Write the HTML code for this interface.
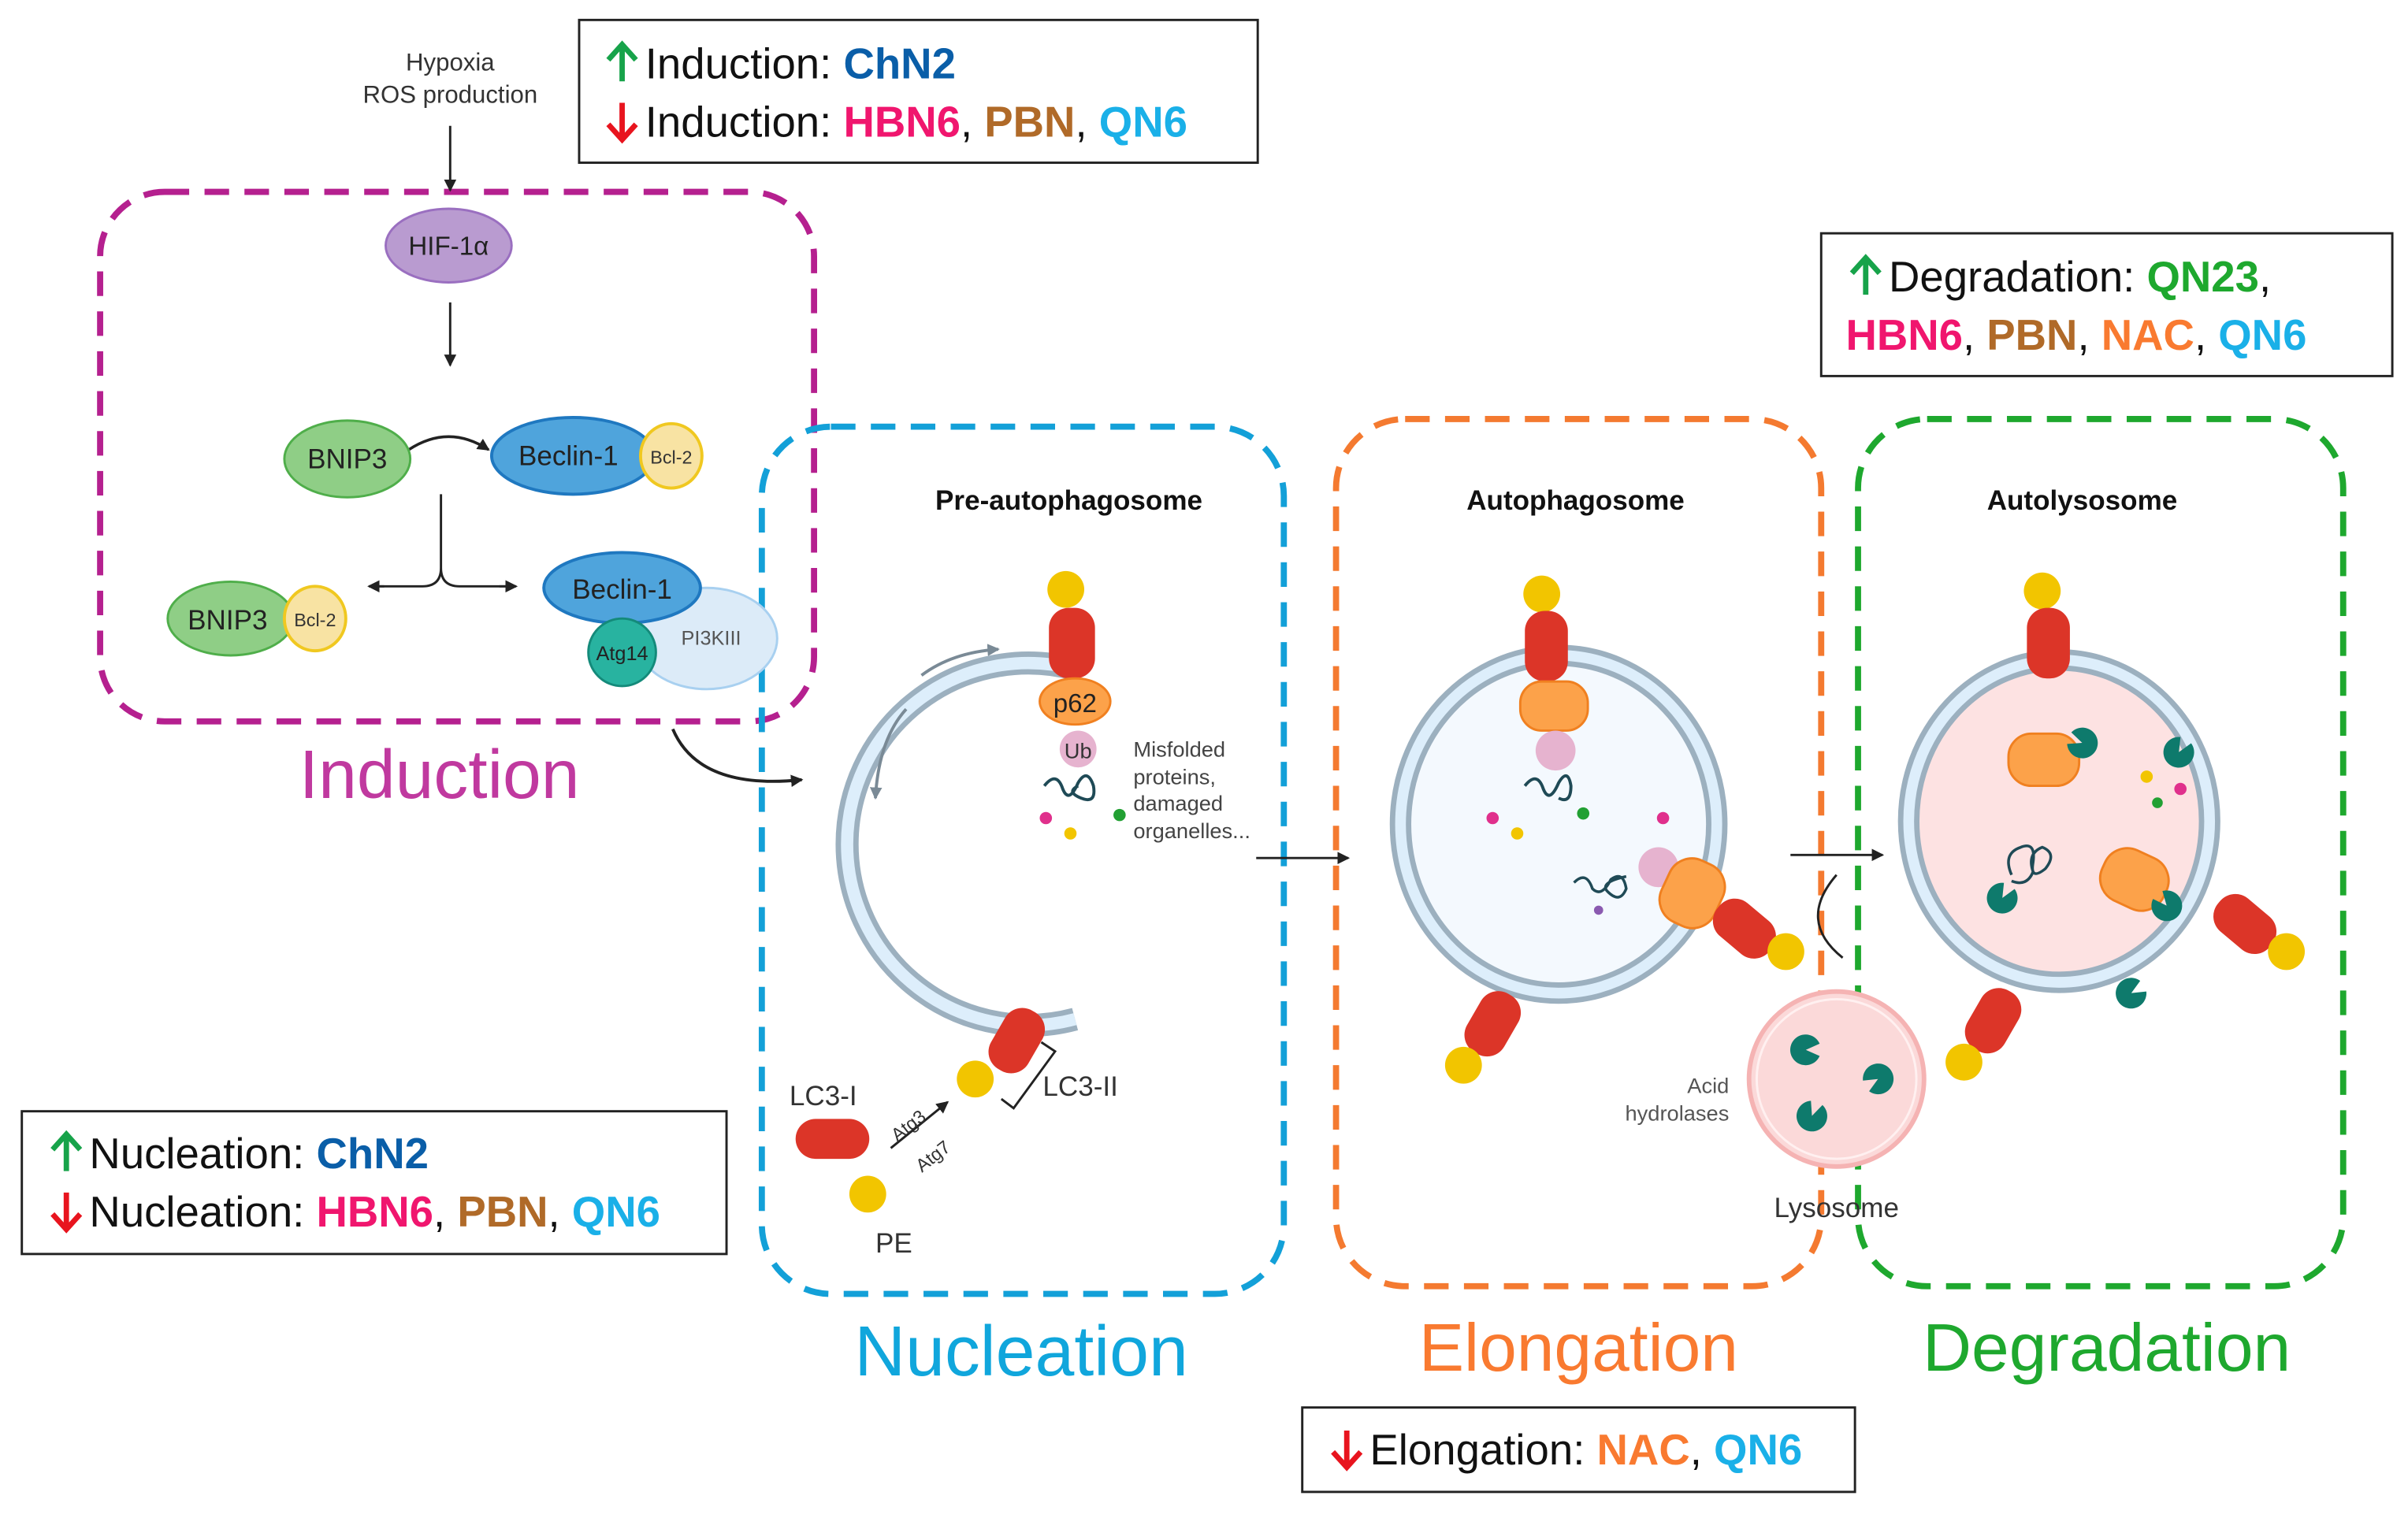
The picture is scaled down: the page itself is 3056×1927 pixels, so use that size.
<!DOCTYPE html>
<html><head><meta charset="utf-8"><style>html,body{margin:0;padding:0;background:#fff}svg{display:block}</style></head>
<body>
<svg width="3056" height="1927" viewBox="0 0 1568 989" xmlns="http://www.w3.org/2000/svg" font-family="Liberation Sans, sans-serif">
<defs>
<marker id="ah" markerWidth="8" markerHeight="8" refX="7" refY="4" orient="auto" markerUnits="userSpaceOnUse"><path d="M0,0 L8,4 L0,8 Z" fill="#222"/></marker>
<marker id="ahg" markerWidth="8" markerHeight="8" refX="7" refY="4" orient="auto" markerUnits="userSpaceOnUse"><path d="M0,0 L8,4 L0,8 Z" fill="#7a8a96"/></marker>
<g id="enz"><path d="M0,0 L9,-4 A10,10 0 1 0 9,4 Z" fill="#0e7a6c"/></g>
<g id="up"><path d="M0,12 L0,-11 M-9,-2 L0,-12 L9,-2" fill="none" stroke="#17a34a" stroke-width="3.5"/></g>
<g id="dn"><path d="M0,-12 L0,11 M-9,2 L0,12 L9,2" fill="none" stroke="#e8141e" stroke-width="3.5"/></g>
</defs>
<rect width="1568" height="989" fill="#fff"/>

<rect x="65" y="125" width="465" height="345" rx="42" fill="none" stroke="#b5208f" stroke-width="4" stroke-dasharray="16,10"/>
<rect x="496" y="278" width="340" height="565" rx="45" fill="none" stroke="#13a0d8" stroke-width="4" stroke-dasharray="16,10"/>
<rect x="870" y="273" width="316" height="565" rx="45" fill="none" stroke="#f47a30" stroke-width="4" stroke-dasharray="16,10"/>
<rect x="1210" y="273" width="316" height="565" rx="45" fill="none" stroke="#1ea82e" stroke-width="4" stroke-dasharray="16,10"/>

<text x="286" y="520" font-size="45" fill="#c0399f" text-anchor="middle">Induction</text>
<text x="665" y="896" font-size="46" fill="#10a6dc" text-anchor="middle">Nucleation</text>
<text x="1028" y="893" font-size="44" fill="#f97a30" text-anchor="middle">Elongation</text>
<text x="1372" y="893" font-size="44" fill="#1ea82e" text-anchor="middle">Degradation</text>

<g font-size="28">
<rect x="377" y="13" width="442" height="93" fill="#fff" stroke="#222" stroke-width="1.5"/>
<use href="#up" x="405" y="41"/>
<text x="420" y="51" fill="#111">Induction: <tspan fill="#0a5ea8" font-weight="bold">ChN2</tspan></text>
<use href="#dn" x="405" y="79"/>
<text x="420" y="89" fill="#111">Induction: <tspan fill="#f0166e" font-weight="bold">HBN6</tspan>, <tspan fill="#b06a28" font-weight="bold">PBN</tspan>, <tspan fill="#1ab0e8" font-weight="bold">QN6</tspan></text>

<rect x="1186" y="152" width="372" height="93" fill="#fff" stroke="#222" stroke-width="1.5"/>
<use href="#up" x="1215" y="180"/>
<text x="1230" y="190" fill="#111">Degradation: <tspan fill="#1ea82e" font-weight="bold">QN23</tspan>,</text>
<text x="1202" y="228" fill="#111"><tspan fill="#f0166e" font-weight="bold">HBN6</tspan>, <tspan fill="#b06a28" font-weight="bold">PBN</tspan>, <tspan fill="#f97a30" font-weight="bold">NAC</tspan>, <tspan fill="#1ab0e8" font-weight="bold">QN6</tspan></text>

<rect x="14" y="724" width="459" height="93" fill="#fff" stroke="#222" stroke-width="1.5"/>
<use href="#up" x="43" y="751"/>
<text x="58" y="761" fill="#111">Nucleation: <tspan fill="#0a5ea8" font-weight="bold">ChN2</tspan></text>
<use href="#dn" x="43" y="789"/>
<text x="58" y="799" fill="#111">Nucleation: <tspan fill="#f0166e" font-weight="bold">HBN6</tspan>, <tspan fill="#b06a28" font-weight="bold">PBN</tspan>, <tspan fill="#1ab0e8" font-weight="bold">QN6</tspan></text>

<rect x="848" y="917" width="360" height="55" fill="#fff" stroke="#222" stroke-width="1.5"/>
<use href="#dn" x="877" y="944"/>
<text x="892" y="954" fill="#111">Elongation: <tspan fill="#f97a30" font-weight="bold">NAC</tspan>, <tspan fill="#1ab0e8" font-weight="bold">QN6</tspan></text>
</g>

<text x="293" y="46" font-size="16" fill="#333" text-anchor="middle">Hypoxia</text>
<text x="293" y="67" font-size="16" fill="#333" text-anchor="middle">ROS production</text>
<line x1="293" y1="82" x2="293" y2="124" stroke="#222" stroke-width="1.5" marker-end="url(#ah)"/>
<ellipse cx="292" cy="160" rx="41" ry="24" fill="#b99bd0" stroke="#9a6fc0" stroke-width="1.5"/>
<text x="292" y="166" font-size="17" fill="#222" text-anchor="middle">HIF-1α</text>
<line x1="293" y1="197" x2="293" y2="238" stroke="#222" stroke-width="1.5" marker-end="url(#ah)"/>
<path d="M266,293 Q292,276 318,293" fill="none" stroke="#222" stroke-width="1.8" marker-end="url(#ah)"/>
<ellipse cx="226" cy="299" rx="41" ry="25" fill="#8fce86" stroke="#4fae4a" stroke-width="1.5"/>
<text x="226" y="305" font-size="18" fill="#222" text-anchor="middle">BNIP3</text>
<ellipse cx="373" cy="297" rx="53" ry="25" fill="#4fa4dc" stroke="#1f78c0" stroke-width="2"/>
<text x="370" y="303" font-size="18" fill="#222" text-anchor="middle">Beclin-1</text>
<ellipse cx="437" cy="297" rx="20" ry="21" fill="#f8e3a3" stroke="#f0c820" stroke-width="2"/>
<text x="437" y="302" font-size="12" fill="#333" text-anchor="middle">Bcl-2</text>
<path d="M287,322 L287,370 Q287,382 275,382 L244,382 M287,370 Q287,382 299,382 L330,382" fill="none" stroke="#222" stroke-width="1.5"/>
<line x1="250" y1="382" x2="240" y2="382" stroke="#222" stroke-width="1.5" marker-end="url(#ah)"/>
<line x1="325" y1="382" x2="336" y2="382" stroke="#222" stroke-width="1.5" marker-end="url(#ah)"/>
<ellipse cx="150" cy="403" rx="41" ry="24" fill="#8fce86" stroke="#4fae4a" stroke-width="1.5"/>
<text x="148" y="410" font-size="18" fill="#222" text-anchor="middle">BNIP3</text>
<ellipse cx="205" cy="403" rx="20" ry="21" fill="#f8e3a3" stroke="#f0c820" stroke-width="2"/>
<text x="205" y="408" font-size="12" fill="#333" text-anchor="middle">Bcl-2</text>
<ellipse cx="460" cy="416" rx="46" ry="33" fill="#dcebf8" stroke="#a8d0f0" stroke-width="1.5"/>
<text x="463" y="420" font-size="13" fill="#555" text-anchor="middle">PI3KIII</text>
<ellipse cx="405" cy="383" rx="51" ry="23" fill="#4fa4dc" stroke="#1f78c0" stroke-width="2"/>
<text x="405" y="390" font-size="18" fill="#222" text-anchor="middle">Beclin-1</text>
<circle cx="405" cy="425" r="22" fill="#28b3a0" stroke="#148a7a" stroke-width="1.5"/>
<text x="405" y="430" font-size="13" fill="#222" text-anchor="middle">Atg14</text>
<path d="M438,475 Q455,515 522,508" fill="none" stroke="#222" stroke-width="2" marker-end="url(#ah)"/>

<text x="696" y="332" font-size="18" font-weight="bold" fill="#111" text-anchor="middle">Pre-autophagosome</text>
<path d="M700,436 A118,118 0 1 0 700,664" fill="none" stroke="#9cb0bf" stroke-width="15"/>
<path d="M700,436 A118,118 0 1 0 700,664" fill="none" stroke="#ddeefb" stroke-width="8"/>
<path d="M600,440 Q620,425 650,423" fill="none" stroke="#7a8a96" stroke-width="2" marker-end="url(#ahg)"/>
<path d="M590,462 Q572,482 570,520" fill="none" stroke="#7a8a96" stroke-width="2" marker-end="url(#ahg)"/>
<circle cx="694" cy="384" r="12" fill="#f2c500"/>
<rect x="683" y="396" width="30" height="46" rx="13" fill="#dc3528"/>
<ellipse cx="700" cy="457" rx="23" ry="15" fill="#fca24a" stroke="#f08020" stroke-width="1.5"/>
<text x="700" y="464" font-size="17" fill="#222" text-anchor="middle">p62</text>
<circle cx="702" cy="488" r="12" fill="#e6b3cf"/>
<text x="702" y="494" font-size="14" fill="#333" text-anchor="middle">Ub</text>
<path d="M680,512 q8,-10 12,2 q4,10 10,-4 q6,-10 10,2 q2,12 -8,8 q-10,-4 -2,-8" fill="none" stroke="#1f4a56" stroke-width="2"/>
<circle cx="681" cy="533" r="4" fill="#e0308c"/>
<circle cx="697" cy="543" r="4" fill="#f2c500"/>
<circle cx="729" cy="531" r="4" fill="#22a033"/>
<g font-size="14" fill="#444"><text x="738" y="493">Misfolded</text><text x="738" y="511">proteins,</text><text x="738" y="528">damaged</text><text x="738" y="546">organelles...</text></g>
<rect x="648" y="656" width="28" height="44" rx="13" fill="#dc3528" transform="rotate(30 662 678)"/>
<circle cx="635" cy="703" r="12" fill="#f2c500"/>
<path d="M678,679 L687,685 L660,722 L652,716" fill="none" stroke="#222" stroke-width="1.5"/>
<text x="679" y="714" font-size="18" fill="#333">LC3-II</text>
<text x="514" y="720" font-size="18" fill="#333">LC3-I</text>
<rect x="518" y="729" width="48" height="26" rx="13" fill="#dc3528"/>
<circle cx="565" cy="778" r="12" fill="#f2c500"/>
<text x="570" y="816" font-size="18" fill="#333">PE</text>
<line x1="580" y1="748" x2="617" y2="718" stroke="#222" stroke-width="1.5" marker-end="url(#ah)"/>
<text x="578" y="738" font-size="12" fill="#333" transform="rotate(-38 590 732)">Atg3</text>
<text x="594" y="758" font-size="12" fill="#333" transform="rotate(-38 606 752)">Atg7</text>
<line x1="818" y1="559" x2="878" y2="559" stroke="#222" stroke-width="1.5" marker-end="url(#ah)"/>

<text x="1026" y="332" font-size="18" font-weight="bold" fill="#111" text-anchor="middle">Autophagosome</text>
<ellipse cx="1015" cy="537" rx="103" ry="110" fill="#f4f9fe" stroke="#9cb0bf" stroke-width="14"/>
<ellipse cx="1015" cy="537" rx="103" ry="110" fill="none" stroke="#ddeefb" stroke-width="7"/>
<circle cx="1004" cy="387" r="12" fill="#f2c500"/>
<rect x="993" y="398" width="28" height="46" rx="13" fill="#dc3528"/>
<rect x="990" y="444" width="44" height="32" rx="14" fill="#fca24a" stroke="#f08020" stroke-width="1.5"/>
<circle cx="1013" cy="489" r="13" fill="#e6b3cf"/>
<path d="M993,512 q8,-10 12,2 q4,10 10,-4 q6,-10 8,2 q0,12 -8,8" fill="none" stroke="#1f4a56" stroke-width="2"/>
<circle cx="972" cy="533" r="4" fill="#e0308c"/><circle cx="988" cy="543" r="4" fill="#f2c500"/><circle cx="1031" cy="530" r="4" fill="#22a033"/><circle cx="1083" cy="533" r="4" fill="#e0308c"/><circle cx="1041" cy="593" r="3" fill="#8a5ab0"/>
<path d="M1025,575 q8,-8 12,4 q6,6 12,-6 q8,-6 10,6 q-4,10 -12,2 q-6,-6 12,-10" fill="none" stroke="#1f4a56" stroke-width="1.8"/>
<circle cx="1080" cy="565" r="13" fill="#e6b3cf"/>
<rect x="1083" y="560" width="38" height="44" rx="16" fill="#fca24a" stroke="#f08020" stroke-width="1.5" transform="rotate(25 1102 582)"/>
<rect x="1122" y="583" width="28" height="44" rx="13" fill="#dc3528" transform="rotate(-50 1136 605)"/>
<circle cx="1163" cy="620" r="12" fill="#f2c500"/>
<rect x="958" y="645" width="28" height="44" rx="13" fill="#dc3528" transform="rotate(30 972 667)"/>
<circle cx="953" cy="694" r="12" fill="#f2c500"/>
<line x1="1166" y1="557" x2="1226" y2="557" stroke="#222" stroke-width="1.5" marker-end="url(#ah)"/>
<path d="M1200,624 Q1170,600 1196,570" fill="none" stroke="#222" stroke-width="1.5"/>

<circle cx="1196" cy="703" r="57" fill="#fbd9d9" stroke="#f5b3b3" stroke-width="3"/>
<circle cx="1196" cy="703" r="52" fill="none" stroke="#fff0f0" stroke-width="1.5"/>
<use href="#enz" transform="translate(1176,684)"/>
<use href="#enz" transform="translate(1223,703) rotate(150)"/>
<use href="#enz" transform="translate(1180,727) rotate(-70)"/>
<g font-size="14" fill="#555" text-anchor="end"><text x="1126" y="712">Acid</text><text x="1126" y="730">hydrolases</text></g>
<text x="1196" y="793" font-size="18" fill="#333" text-anchor="middle">Lysosome</text>

<text x="1356" y="332" font-size="18" font-weight="bold" fill="#111" text-anchor="middle">Autolysosome</text>
<ellipse cx="1341" cy="535" rx="98" ry="105" fill="#fde2e2" stroke="#9cb0bf" stroke-width="14"/>
<ellipse cx="1341" cy="535" rx="98" ry="105" fill="none" stroke="#ddeefb" stroke-width="7"/>
<circle cx="1330" cy="385" r="12" fill="#f2c500"/>
<rect x="1320" y="396" width="28" height="46" rx="13" fill="#dc3528"/>
<rect x="1308" y="478" width="46" height="34" rx="15" fill="#fca24a" stroke="#f08020" stroke-width="1.5"/>
<use href="#enz" transform="translate(1356,484) rotate(200)"/>
<use href="#enz" transform="translate(1419,490) rotate(-60)"/>
<circle cx="1398" cy="506" r="4" fill="#f2c500"/><circle cx="1420" cy="514" r="4" fill="#e0308c"/><circle cx="1405" cy="523" r="3.5" fill="#22a033"/>
<path d="M1310,570 q-6,-14 6,-18 q10,-4 8,10 q-2,12 8,4 q8,-10 -2,-14 q-10,4 -6,16 q-4,10 -14,6" fill="none" stroke="#1f4a56" stroke-width="1.8"/>
<use href="#enz" transform="translate(1304,585) rotate(-60)"/>
<rect x="1368" y="555" width="44" height="36" rx="16" fill="#fca24a" stroke="#f08020" stroke-width="1.5" transform="rotate(25 1390 573)"/>
<use href="#enz" transform="translate(1411,590) rotate(230)"/>
<use href="#enz" transform="translate(1388,647) rotate(-30)"/>
<rect x="1448" y="580" width="28" height="44" rx="13" fill="#dc3528" transform="rotate(-50 1462 602)"/>
<circle cx="1489" cy="620" r="12" fill="#f2c500"/>
<rect x="1284" y="643" width="28" height="44" rx="13" fill="#dc3528" transform="rotate(30 1298 665)"/>
<circle cx="1279" cy="692" r="12" fill="#f2c500"/>
</svg>
</body></html>
